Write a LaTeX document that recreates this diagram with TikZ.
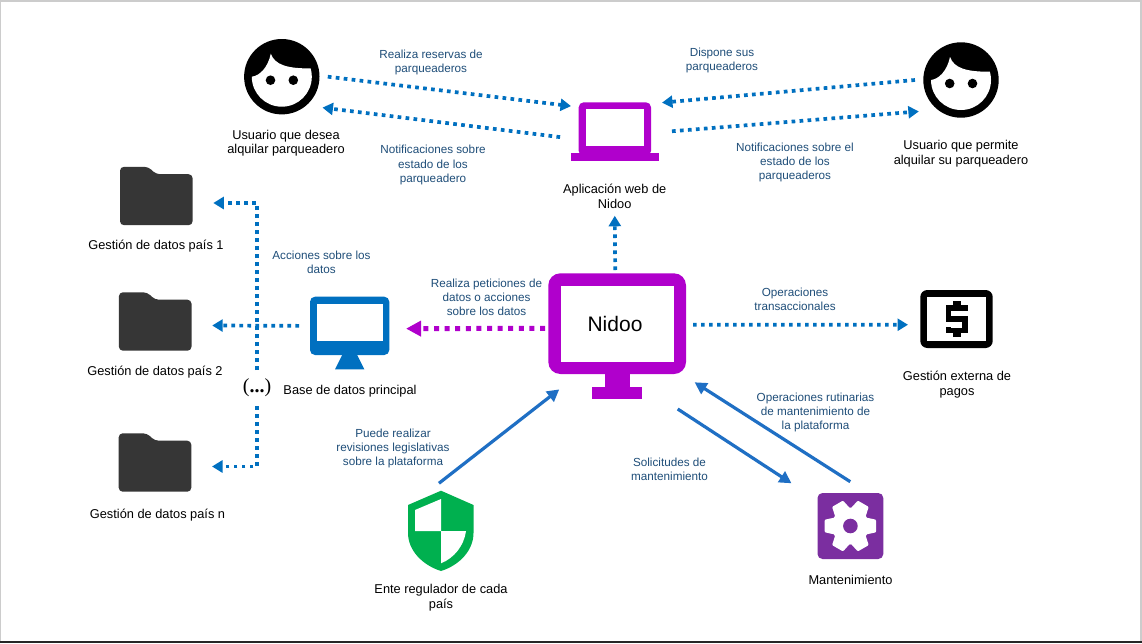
\documentclass[tikz,border=0pt]{standalone}
\usepackage{fontspec}
\setmainfont{Liberation Sans}
\newfontfamily\dotsfont{Liberation Serif}
\usetikzlibrary{arrows.meta}

\definecolor{linkblue}{HTML}{0070C0}
\definecolor{solidblue}{HTML}{1F6FC4}
\definecolor{textblue}{HTML}{1F4E79}
\definecolor{nidoopurple}{HTML}{B000CC}
\definecolor{gearpurple}{HTML}{7B2EA0}
\definecolor{folderdark}{HTML}{363636}
\definecolor{shieldgreen}{HTML}{00B04F}

\tikzset{
	iconbox/.style = {rectangle, inner sep = 0, outer sep = 0},
	facebox/.style = {circle, inner sep = 0, outer sep = 0, minimum size = 92pt},
	name text/.style = {align = center, inner sep = 0, yshift = -1.5pt, font = \fontsize{12.8}{14.6}\selectfont},
	link text/.style = {align = center, inner sep = 0, yshift = -1.5pt, text = textblue, font = \fontsize{11.7}{14.2}\selectfont},
	dotblue/.style = {-{Triangle[length = 10.5pt, width = 12pt]}, linkblue, line width = 3.7pt, dash pattern = on 3.7pt off 4.3pt},
	dotpurple/.style = {-{Triangle[length = 15pt, width = 15pt]}, nidoopurple, line width = 5pt, dash pattern = on 5pt off 5.6pt},
	solidlink/.style = {-{Triangle[length = 12pt, width = 12.5pt]}, solidblue, line width = 3.2pt},
	pics/face/.style = {code = {
		\fill [black] (0, 0) circle (37.7);
		\begin{scope}
			\clip (-38, 0) -- (-30, 0) .. controls (-22, -1) and (-14, -9) .. (-11, -23) .. controls (-7, -12) and (5, -8) .. (30, -8.3) -- (38, -8.3) -- (38, 38) -- (-38, 38) -- cycle;
			\fill [white] (0, 0) circle (30);
		\end{scope}
		\fill [black] (-11.3, 3.5) circle (4.8);
		\fill [black] (11.5, 3.5) circle (4.8);
	}},
	pics/folder/.style = {code = {
		\fill [folderdark, rounded corners = 4pt] (-36.3, 29.2) -- (-36.3, -29.2) -- (-8, -29.2) -- (-0.3, -21.8) -- (36.3, -21.8) -- (36.3, 29.2) -- cycle;
	}},
	pics/gear/.style = {code = {
		\foreach \ang in {30, 90, ..., 330} {
			\fill [white, rotate = \ang, rounded corners = 1pt] (-8.6, -15) -- (-6.3, -25.7) -- (6.3, -25.7) -- (8.6, -15) -- cycle;
		}
		\fill [white] (0, 0) circle (18.5);
		\fill [gearpurple] (0, 0) circle (7.3);
	}},
}

\begin{document}
\begin{tikzpicture}[x = 1pt, y = -1pt]

	\useasboundingbox (0, 0) rectangle (1142, 643);

	% Frame

	\fill [white] (0, 0) rectangle (1142, 643);
	\draw [black!20, line width = 1.2pt] (0.6, 643) -- (0.6, 1) -- (1141, 1) -- (1141, 643);
	\fill [black!85] (0, 641) rectangle (1142, 643);

	% Users

	\node [facebox] (userRent) at (281.8, 76.7) {};
	\pic at (userRent) {face};
	\node [name text] (userRentText) at (286, 141.5) {Usuario que desea\\alquilar parqueadero};

	\node [facebox] (userOwner) at (961, 80) {};
	\pic at (userOwner) {face};
	\node [name text] (userOwnerText) at (961, 152) {Usuario que permite\\alquilar su parqueadero};

	% Laptop

	\node [iconbox, minimum width = 88pt, minimum height = 59pt] (laptop) at (615, 131.5) {};
	\fill [nidoopurple, rounded corners = 5pt] (578.7, 102.3) rectangle (651, 156);
	\fill [white] (585.7, 109.3) rectangle (644, 146);
	\fill [nidoopurple] (571, 153.3) rectangle (658.7, 160.7);
	\node [name text] (laptopText) at (614.7, 195) {Aplicación web de\\Nidoo};

	% Nidoo

	\fill [nidoopurple, rounded corners = 12pt] (548.3, 273.3) rectangle (686, 374);
	\fill [nidoopurple] (605, 370) rectangle (630, 388);
	\fill [nidoopurple] (592.3, 386.7) rectangle (642.3, 399);
	\fill [white] (561, 286) rectangle (674, 361.7);
	\node [iconbox, minimum width = 138pt, minimum height = 101pt, font = \fontsize{21}{24}\selectfont] (nidoo) at (617, 323.5) {\hspace*{-4pt}\raisebox{-3.5pt}{Nidoo}};

	% Main database

	\node [iconbox, minimum width = 79.3pt, minimum height = 58.4pt] (base) at (349.7, 325.9) {};
	\fill [linkblue, rounded corners = 5pt] (310, 296.7) rectangle (389.3, 355);
	\fill [white] (317, 304) rectangle (382.7, 340.7);
	\fill [linkblue] (342.7, 354) -- (356.7, 354) -- (364.3, 369.3) -- (335, 369.3) -- cycle;
	\node [name text] (baseText) at (350, 389.5) {Base de datos principal};

	% Folders

	\node [iconbox, minimum width = 114pt, minimum height = 58pt] (folderOne) at (156.3, 196) {};
	\pic at (folderOne) {folder};
	\node [name text] (folderOneText) at (156, 244.5) {Gestión de datos país 1};

	\node [iconbox, minimum width = 114pt, minimum height = 58pt] (folderTwo) at (155.2, 321.5) {};
	\pic at (folderTwo) {folder};
	\node [name text] (folderTwoText) at (155, 370.5) {Gestión de datos país 2};

	\node [iconbox, minimum width = 114pt, minimum height = 58pt] (folderN) at (155, 462.5) {};
	\pic at (folderN) {folder};
	\node [name text] (folderNText) at (157.5, 513.3) {Gestión de datos país n};

	\node [iconbox, minimum height = 36pt, font = \dotsfont\fontsize{20}{22}\selectfont] (dots) at (257, 388) {\raisebox{-5pt}{(\textbf{...})}};

	% Payments

	\node [iconbox, minimum width = 72.4pt, minimum height = 58pt] (payment) at (956.5, 319) {};
	\fill [black, rounded corners = 7pt] (920.3, 290) rectangle (992.7, 348);
	\fill [white] (927.3, 297) rectangle (985.7, 340.7);
	\draw [black, line width = 5.6pt, miter limit = 10] (965, 311) -- (965, 307.7) -- (948.5, 307.7) -- (948.5, 319) -- (965, 319) -- (965, 330.3) -- (948.5, 330.3) -- (948.5, 327);
	\fill [black] (952.7, 300.7) rectangle (960.7, 306);
	\fill [black] (952.7, 332) rectangle (960.7, 337.3);
	\node [name text] (paymentText) at (957, 383) {Gestión externa de\\pagos};

	% Regulator

	\node [iconbox, minimum width = 65.5pt, minimum height = 80.3pt] (shield) at (441, 530.8) {};
	\fill [shieldgreen] (441, 490.7) -- (473.5, 505) -- (473.5, 533) .. controls (473.5, 550) and (460, 565) .. (441, 571) .. controls (422, 565) and (408, 550) .. (408, 533) -- (408, 505) -- cycle;
	\fill [white] (441, 499) -- (415, 510) -- (415, 531) -- (441, 531) -- cycle;
	\fill [white] (441, 531) -- (466, 531) .. controls (464, 546) and (454, 558) .. (441, 563.3) -- cycle;
	\node [name text] (shieldText) at (441, 596) {Ente regulador de cada\\país};

	% Maintenance

	\node [iconbox, minimum width = 66pt, minimum height = 66pt] (maint) at (850.4, 526) {};
	\fill [gearpurple, rounded corners = 5pt] (817.5, 493) rectangle (883.3, 559);
	\pic at (maint) {gear};
	\node [name text] (maintText) at (850.5, 578) {Mantenimiento};

	% Link texts

	\node [link text] (txtReserve) at (431, 61) {Realiza reservas de\\parqueaderos};
	\node [link text] (txtNotifyA) at (433, 163.5) {Notificaciones sobre\\estado de los\\parqueadero};
	\node [link text] (txtOffer) at (722, 59) {Dispone sus\\parqueaderos};
	\node [link text] (txtNotifyB) at (795, 161) {Notificaciones sobre el\\estado de los\\parqueaderos};
	\node [link text] (txtActions) at (321.5, 261) {Acciones sobre los\\datos};
	\node [link text] (txtRequests) at (486.5, 296) {Realiza peticiones de\\datos o acciones\\sobre los datos};
	\node [link text] (txtTrans) at (795, 298) {Operaciones\\transaccionales};
	\node [link text] (txtRoutine) at (815.5, 411) {Operaciones rutinarias\\de mantenimiento de\\la plataforma};
	\node [link text] (txtReview) at (393, 447) {Puede realizar\\revisiones legislativas\\sobre la plataforma};
	\node [link text] (txtRepair) at (669.5, 468) {Solicitudes de\\mantenimiento};

	% Dotted links

	\draw [dotblue] (userRent.0) -- (laptop.150);
	\draw [dotblue, shorten <= 11pt, shorten >= 6pt] (laptop.189) -- (userRent.-41);
	\draw [dotblue, shorten >= 3pt] (userOwner.180) -- (laptop.33.6);
	\draw [dotblue, shorten <= 13pt, shorten >= 8pt] (laptop.-1) -- (userOwner.-138);
	\draw [dotblue, shorten <= 3pt, shorten >= 7pt] (nidoo.92) -- (laptopText.south);
	\draw [dotblue, shorten <= 7pt, shorten >= 12.3pt] (nidoo.-1.6) -- (payment.189.4);
	\draw [dotpurple, shorten <= 3pt, shorten >= 16.7pt] (nidoo.184.6) -- (base.-4.4);
	\draw [dotblue, shorten <= 11pt] (base.west) -- (folderTwo.-4.5);
	\draw [dotblue] (dots.north) |- (folderOne.-7);
	\draw [dotblue] (dots.south) |- (folderN.-4.2);

	% Solid links

	\draw [solidlink, shorten <= 12pt, shorten >= 25pt] (shield.106.6) -- (nidoo.233.6);
	\draw [solidlink, shorten <= 64pt, shorten >= 31pt] (nidoo.-82) -- (maint.142.1);
	\draw [solidlink, shorten <= 21pt, shorten >= 15.4pt] (maint.62.3) -- (nidoo.-38.3);

\end{tikzpicture}
\end{document}
